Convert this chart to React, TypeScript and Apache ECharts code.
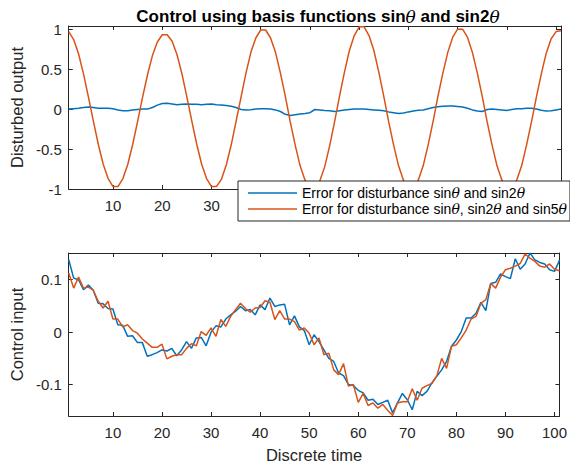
import React, { useEffect, useRef } from "react";
import * as echarts from "echarts";

const xTicks = [10, 20, 30, 40, 50, 60, 70, 80, 90, 100];
const topXLabels = [10, 20, 30];
const topYTicks = [-1, -0.5, 0, 0.5, 1];
const botYTicks = [-0.1, 0, 0.1];

const seriesNames = [
  "Error for disturbance sinθ and sin2θ",
  "Error for disturbance sinθ, sin2θ and sin5θ",
];

// top panel: disturbed output
const outBlue = [
  0.0, 0.005, 0.01, 0.02, 0.025, 0.02, 0.01, 0.01, 0.012, 0.005,
  -0.01, -0.02, -0.02, -0.01, -0.005, 0.0, 0.0, 0.02, 0.05, 0.07,
  0.072, 0.065, 0.055, 0.06, 0.065, 0.062, 0.06, 0.055, 0.06, 0.063,
  0.055, 0.05, 0.045, 0.035, 0.02, -0.005, -0.01, -0.008, 0.0, 0.005,
  0.005, 0.002, -0.01, -0.03, -0.065, -0.08, -0.07, -0.062, -0.055, -0.045,
  -0.005, -0.01, -0.017, -0.022, -0.03, -0.02, -0.01, -0.005, 0.0, 0.0,
  0.0, -0.005, -0.01, -0.015, -0.02, -0.035, -0.045, -0.055, -0.05, -0.035,
  -0.025, -0.015, -0.01, 0.005, 0.02, 0.03, 0.035, 0.038, 0.038, 0.032,
  0.025, 0.01, -0.01, -0.025, -0.03, -0.005, 0.0, -0.005, -0.01, -0.017,
  -0.005, 0.004, 0.005, 0.012, 0.01, 0.0, -0.015, -0.025, -0.02, -0.01,
  0.0,
];
const outOrange = [
  0.97, 0.87, 0.69, 0.44, 0.15, -0.15, -0.44, -0.69, -0.87, -0.97,
  -0.97, -0.87, -0.69, -0.44, -0.15, 0.15, 0.43, 0.67, 0.84, 0.93,
  0.93, 0.85, 0.68, 0.44, 0.15, -0.15, -0.44, -0.69, -0.87, -0.97,
  -0.97, -0.88, -0.7, -0.45, -0.15, 0.15, 0.45, 0.71, 0.89, 0.99,
  0.99, 0.89, 0.71, 0.45, 0.16, -0.16, -0.45, -0.71, -0.89, -0.99,
  -0.99, -0.9, -0.72, -0.46, -0.16, 0.16, 0.46, 0.73, 0.92, 1.03,
  1.03, 0.92, 0.73, 0.46, 0.16, -0.16, -0.45, -0.71, -0.89, -0.99,
  -0.99, -0.89, -0.71, -0.45, -0.16, 0.16, 0.45, 0.71, 0.9, 1.0,
  1.0, 0.9, 0.71, 0.45, 0.16, -0.16, -0.45, -0.71, -0.89, -0.99,
  -0.99, -0.89, -0.71, -0.45, -0.16, 0.15, 0.44, 0.7, 0.88, 0.97,
  0.98,
];

// bottom panel: control input
const ctrlBlue = [
  0.138, 0.103, 0.1, 0.081, 0.09, 0.08, 0.055, 0.054, 0.045, 0.044,
  0.014, 0.013, -0.008, -0.007, -0.02, -0.02, -0.046, -0.043, -0.039, -0.034,
  -0.036, -0.031, -0.045, -0.034, -0.018, -0.031, -0.011, -0.01, -0.026, 0.0,
  0.012, 0.01, 0.025, 0.033, 0.04, 0.049, 0.041, 0.043, 0.033, 0.052,
  0.043, 0.065, 0.049, 0.052, 0.053, 0.014, 0.031, 0.01, 0.003, -0.024,
  -0.005, -0.018, -0.034, -0.05, -0.056, -0.078, -0.083, -0.1, -0.102, -0.111,
  -0.116, -0.13, -0.128, -0.138, -0.134, -0.13, -0.154, -0.135, -0.117, -0.129,
  -0.148, -0.113, -0.121, -0.113, -0.097, -0.084, -0.072, -0.056, -0.027, -0.015,
  0.001, 0.027, 0.027, 0.036, 0.057, 0.041, 0.093, 0.095, 0.111, 0.106,
  0.102, 0.14, 0.12, 0.13, 0.151, 0.138, 0.133, 0.13, 0.119, 0.116,
  0.137,
];
const ctrlOrange = [
  0.113, 0.084, 0.105, 0.084, 0.086, 0.08, 0.059, 0.046, 0.059, 0.025,
  0.025, 0.01, 0.014, 0.003, -0.002, -0.013, -0.021, -0.029, -0.029, -0.023,
  -0.051, -0.046, -0.043, -0.043, -0.031, -0.022, -0.026, 0.001, -0.006, 0.008,
  -0.008, 0.024, 0.011, 0.03, 0.043, 0.055, 0.045, 0.038, 0.046, 0.047,
  0.06, 0.057, 0.024, 0.041, 0.025, 0.025, 0.02, 0.004, 0.008, -0.002,
  -0.024, -0.011, -0.043, -0.04, -0.072, -0.081, -0.06, -0.103, -0.1, -0.134,
  -0.117, -0.14, -0.135, -0.145, -0.138, -0.149, -0.159, -0.135, -0.133, -0.133,
  -0.108, -0.13, -0.107, -0.102, -0.098, -0.084, -0.05, -0.069, -0.027, -0.024,
  -0.011, 0.004, 0.025, 0.03, 0.055, 0.062, 0.093, 0.084, 0.105, 0.119,
  0.122, 0.126, 0.131, 0.149, 0.141, 0.135, 0.126, 0.124, 0.13, 0.12,
  0.117,
];

const BLUE = "#0072BD";
const ORANGE = "#D95319";
const AX = "#262626";
const FONT = "Liberation Sans";
const TICK_FS = 15;
const LABEL_FS = 16.5;

const toPairs = (arr: number[]) => arr.map((v, i) => [i + 1, v]);

const thetaRich = (s: string, base: string) =>
  s
    .split("θ")
    .map((p) => (p ? `{${base}|${p}}` : ""))
    .join("{t|θ}");

export default function App() {
  const ref = useRef<HTMLDivElement>(null);
  useEffect(() => {
    if (!ref.current) return;
    const chart = echarts.init(ref.current, null, { renderer: "svg" });
    const grids = [
      { left: 65, right: 9, top: 26, height: 163 },
      { left: 65, right: 9, top: 253, height: 163 },
    ];
    const xAxisBase = (gi: number, pos: "bottom" | "top", labels: number[] | null) => ({
      type: "value",
      gridIndex: gi,
      position: pos,
      min: 1,
      max: 101,
      axisLine: { show: true, onZero: false, lineStyle: { color: AX, width: 1 } },
      axisTick: { show: true, inside: true, length: 4, customValues: xTicks, lineStyle: { color: AX } },
      axisLabel: {
        show: !!labels,
        customValues: labels || xTicks,
        color: AX,
        fontFamily: FONT,
        fontSize: TICK_FS,
        margin: 9,
      },
      splitLine: { show: false },
    });
    const yAxisBase = (
      gi: number,
      pos: "left" | "right",
      labels: boolean,
      min: number,
      max: number,
      ticks: number[],
      name?: string
    ) => ({
      type: "value",
      gridIndex: gi,
      position: pos,
      min,
      max,
      name: name || "",
      nameLocation: "middle",
      nameGap: 38,
      nameTextStyle: { color: AX, fontFamily: FONT, fontSize: LABEL_FS },
      axisLine: { show: true, onZero: false, lineStyle: { color: AX, width: 1 } },
      axisTick: { show: true, inside: true, length: 4, customValues: ticks, lineStyle: { color: AX } },
      axisLabel: {
        show: labels,
        customValues: ticks,
        color: AX,
        fontFamily: FONT,
        fontSize: TICK_FS,
        margin: 7,
        formatter: (v: number) => (v === 0 ? "0" : String(v)),
      },
      splitLine: { show: false },
    });
    const xBottom1 = xAxisBase(1, "bottom", xTicks) as any;
    xBottom1.name = "Discrete time";
    xBottom1.nameLocation = "middle";
    xBottom1.nameGap = 30;
    xBottom1.nameTextStyle = { color: AX, fontFamily: FONT, fontSize: LABEL_FS };

    const lineSeries = (name: string, data: number[], color: string, axIdx: number) => ({
      type: "line",
      name,
      data: toPairs(data),
      xAxisIndex: axIdx,
      yAxisIndex: axIdx,
      symbol: "none",
      showSymbol: false,
      lineStyle: { color, width: 1.5 },
      itemStyle: { color },
      z: 2,
    });

    chart.setOption({
      animation: false,
      backgroundColor: "#ffffff",
      title: {
        text: thetaRich("Control using basis functions sinθ and sin2θ", "b"),
        left: 313,
        top: 3,
        textAlign: "center",
        textStyle: {
          fontFamily: FONT,
          fontSize: 17,
          fontWeight: "bold",
          color: "#000",
          rich: {
            b: { fontFamily: FONT, fontSize: 17, fontWeight: "bold", color: "#000" },
            t: { fontFamily: "DejaVu Serif", fontSize: 17, fontStyle: "italic", fontWeight: "normal", color: "#000" },
          },
        },
      },
      grid: grids,
      xAxis: [
        xAxisBase(0, "bottom", topXLabels),
        xAxisBase(0, "top", null),
        xBottom1,
        xAxisBase(1, "top", null),
      ],
      yAxis: [
        yAxisBase(0, "left", true, -1, 1.04, topYTicks, "Disturbed output"),
        yAxisBase(0, "right", false, -1, 1.04, topYTicks),
        yAxisBase(1, "left", true, -0.16, 0.151, botYTicks, "Control input"),
        yAxisBase(1, "right", false, -0.16, 0.151, botYTicks),
      ],
      legend: {
        orient: "vertical",
        left: 238,
        top: 181,
        data: seriesNames,
        icon: "rect",
        itemWidth: 49,
        itemHeight: 1.5,
        itemGap: 0,
        padding: [4, 3, 4, 10],
        backgroundColor: "#ffffff",
        borderColor: AX,
        borderWidth: 1,
        borderRadius: 0,
        z: 10,
        formatter: (name: string) => thetaRich(name, "n"),
        textStyle: {
          fontFamily: FONT,
          fontSize: 14,
          color: "#000",
          lineHeight: 16,
          rich: {
            n: { fontFamily: FONT, fontSize: 14, color: "#000", lineHeight: 16 },
            t: { fontFamily: "DejaVu Serif", fontSize: 14, fontStyle: "italic", color: "#000", lineHeight: 16 },
          },
        },
      },
      series: [
        lineSeries(seriesNames[0], outBlue, BLUE, 0),
        lineSeries(seriesNames[1], outOrange, ORANGE, 0),
        lineSeries(seriesNames[0], ctrlBlue, BLUE, 2),
        lineSeries(seriesNames[1], ctrlOrange, ORANGE, 2),
      ],
    });
    return () => chart.dispose();
  }, []);
  return (
    <div
      ref={ref}
      style={{ position: "fixed", left: 0, top: 0, width: 570, height: 466, background: "#fff" }}
    />
  );
}
